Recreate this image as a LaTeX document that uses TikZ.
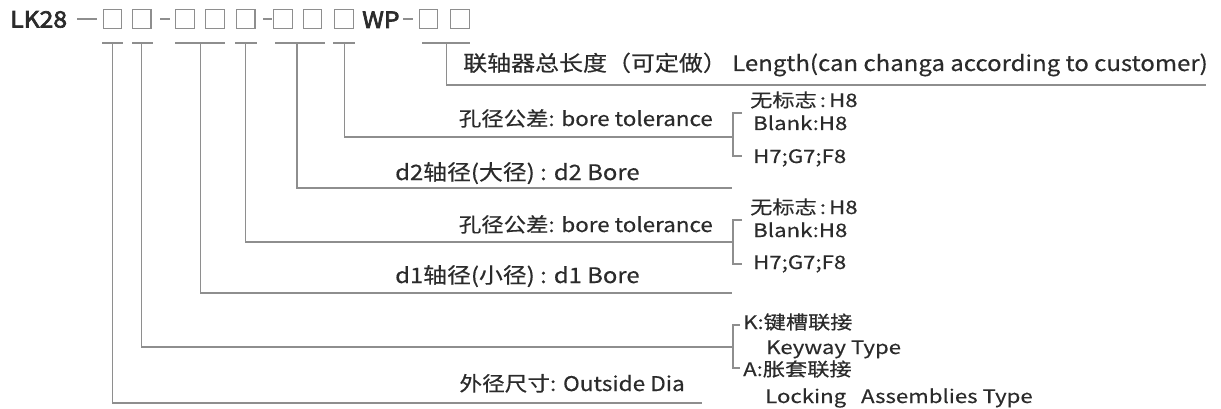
\documentclass[tikz,border=0pt]{standalone}
\usepackage{fontspec}
\setmainfont{Noto Sans CJK SC}[FakeStretch=1.12,FakeBold=0.4]
\newfontfamily\brfont{Noto Sans CJK SC}[FakeStretch=1.2,FakeBold=0.4]
\newfontfamily\hdfont{Noto Sans CJK SC}[FakeBold=3,FakeStretch=1.1]
\definecolor{lncol}{HTML}{8E8E8E}
\definecolor{txcol}{HTML}{2B2B2B}
\begin{document}
\begin{tikzpicture}[x=1pt,y=-1pt,
  ln/.style={draw=lncol,line width=1.3pt},
  box/.style={draw=lncol,line width=1.2pt,minimum width=18.5pt,minimum height=18.5pt,inner sep=0pt},
  hd/.style={text=txcol,inner sep=0pt,anchor=base west,font=\hdfont\fontsize{22.5}{24}\selectfont},
  lbl/.style={text=txcol,inner sep=0pt},
  sml/.style={text=txcol,inner sep=0pt,anchor=base west,font=\brfont\fontsize{18.5}{20}\selectfont},
]
\useasboundingbox (0,0) rectangle (1221,409);
% header
\node[hd] (lk) at (10,27.5) {LK28};
\node[hd] (wp) at (362,28) {WP};
\foreach \n/\x in {b1/112.5,b2/141.7,b3/185,b4/215,b5/245.7,b6/283,b7/312.5,b8/344,b9/428.5,b10/460}
  \node[box] (\n) at (\x,19) {};
\draw[ln] (77,19) -- (97,19);
\draw[ln] (160,19) -- (170,19);
\draw[ln] (263,19) -- (272,19);
\draw[ln] (403,19) -- (413,19);
% T bars
\draw[ln] (102,43) -- (123,43);
\draw[ln] (132,43) -- (153,43);
\draw[ln] (175,43) -- (225,43);
\draw[ln] (235,43) -- (257,43);
\draw[ln] (275,43) -- (325,43);
\draw[ln] (333,43) -- (355,43);
\draw[ln] (422,43) -- (470,43);
\coordinate (t1) at (112.7,43);
\coordinate (t2) at (141.7,43);
\coordinate (t3) at (200.3,43);
\coordinate (t4) at (245.7,43);
\coordinate (t5) at (297,43);
\coordinate (t6) at (344.3,43);
\coordinate (t7) at (446.7,43);
% line ends
\coordinate (e7) at (1206,85);
\coordinate (e6) at (733,137);
\coordinate (e5) at (732,188);
\coordinate (e4) at (733,242);
\coordinate (e3) at (732,293);
\coordinate (e2) at (733,347);
\coordinate (e1) at (702,403);
\draw[ln] (t7) |- (e7);
\draw[ln] (t6) |- (e6);
\draw[ln] (t5) |- (e5);
\draw[ln] (t4) |- (e4);
\draw[ln] (t3) |- (e3);
\draw[ln] (t2) |- (e2);
\draw[ln] (t1) |- (e1);
% brackets
\coordinate (k1t) at (742,113); \coordinate (k1b) at (742,156);
\coordinate (k2t) at (742,220); \coordinate (k2b) at (742,264);
\coordinate (k3t) at (740,325); \coordinate (k3b) at (740,368);
\draw[ln] (k1t) -- ++(-9,0) |- (k1b);
\draw[ln] (k2t) -- ++(-9,0) |- (k2b);
\draw[ln] (k3t) -- ++(-7,0) |- (k3b);
% labels
\node[lbl,anchor=base west,font=\fontsize{21.4}{23}\selectfont] (len) at (463,71) {联轴器总长度（可定做） Length(can changa according to customer)};
\node[lbl,anchor=base east,font=\fontsize{20}{22}\selectfont] (tol1) at (713,126) {孔径公差: bore tolerance};
\node[lbl,anchor=base west,font=\fontsize{21.3}{23}\selectfont] (d2) at (395,180) {d2轴径(大径) : d2 Bore};
\node[lbl,anchor=base east,font=\fontsize{20}{22}\selectfont] (tol2) at (713,232) {孔径公差: bore tolerance};
\node[lbl,anchor=base west,font=\fontsize{21.3}{23}\selectfont] (d1) at (395,283) {d1轴径(小径) : d1 Bore};
\node[lbl,anchor=base east,font=\fontsize{20.2}{22}\selectfont] (od) at (685,391) {外径尺寸: Outside Dia};
% bracket texts
\node[sml] (a1) at (750,107) {无标志\,:\,H8};
\node[sml] (a2) at (753,130) {Blank:H8};
\node[sml] (a3) at (753,163) {H7;G7;F8};
\node[sml] (c1) at (750,214) {无标志\,:\,H8};
\node[sml] (c2) at (753,237) {Blank:H8};
\node[sml] (c3) at (753,269) {H7;G7;F8};
\node[sml] (k1) at (743,329) {K:键槽联接};
\node[sml] (k2) at (766,354) {Keyway Type};
\node[sml] (k3) at (743,376) {A:胀套联接};
\node[sml] (k4) at (765,403) {Locking\ \ \ Assemblies Type};
\end{tikzpicture}
\end{document}
